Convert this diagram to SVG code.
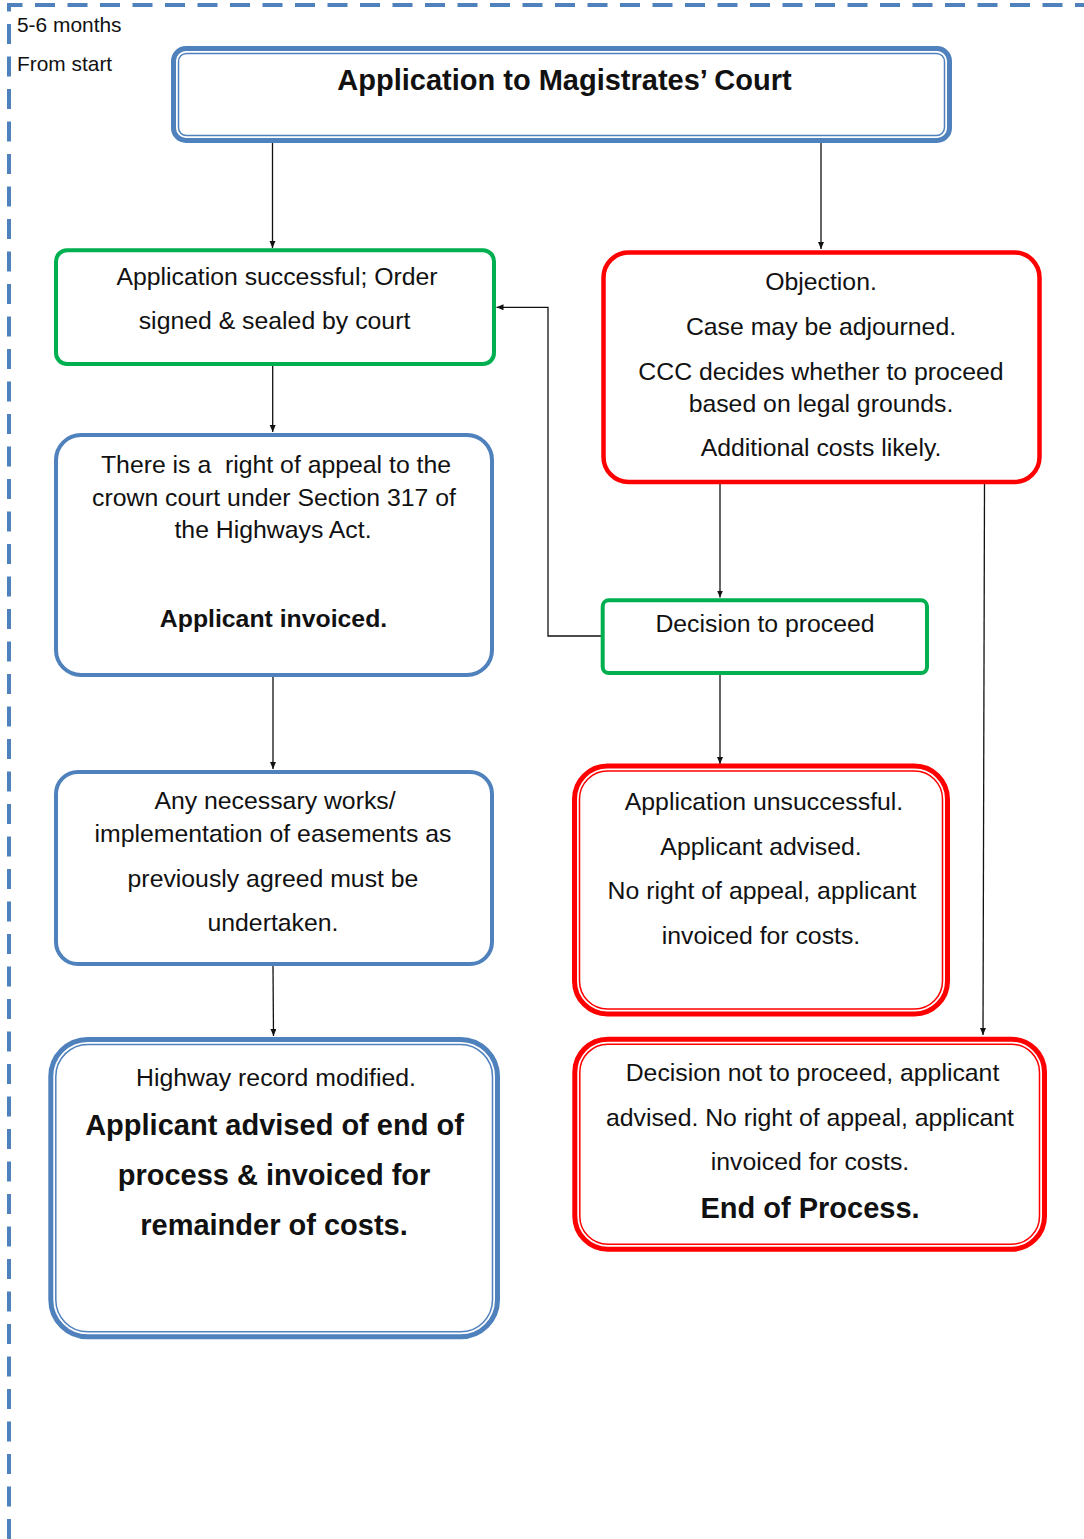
<svg xmlns="http://www.w3.org/2000/svg" width="1084" height="1539" viewBox="0 0 1084 1539">
<style>
text{font-family:"Liberation Sans",Arial,sans-serif;fill:#111;text-anchor:middle}
.s{font-size:20.9px;text-anchor:start}
.t{font-size:24.8px}
.b{font-size:24.8px;font-weight:bold}
.bb{font-size:29px;font-weight:bold}
.tt{font-size:29px;font-weight:bold}
.pre{white-space:pre}
.blue{fill:none;stroke:#4f81bd;stroke-width:4}
.green{fill:none;stroke:#00b050;stroke-width:4}
.red{fill:none;stroke:#ff0000;stroke-width:4.5}
.blueo{fill:none;stroke:#4f81bd;stroke-width:5}
.bluei{fill:none;stroke:#4f81bd;stroke-width:1.5}
.redo{fill:none;stroke:#ff0000;stroke-width:5}
.redi{fill:none;stroke:#ff0000;stroke-width:1.5}
.c{fill:none;stroke:#111;stroke-width:1.3}
.frame{fill:none;stroke:#4f81bd;stroke-width:4;stroke-dasharray:20 12.5}
</style>
<defs>
<marker id="ah" markerUnits="userSpaceOnUse" markerWidth="8" markerHeight="7" refX="7" refY="3" orient="auto">
<path d="M0,0 L7,3 L0,6 z" fill="#111"/>
</marker>
</defs>
<rect width="1084" height="1539" fill="#fff"/>
<path class="frame" d="M9,1539 V5 H1084"/>
<g id="label">
<text class="s" x="17" y="32">5-6 months</text>
<text class="s" x="17" y="71">From start</text>
</g>
<g id="connectors">
<path class="c" marker-end="url(#ah)" d="M272.5,143 V248"/>
<path class="c" marker-end="url(#ah)" d="M821,143 V249"/>
<path class="c" marker-end="url(#ah)" d="M272.7,366 V432"/>
<path class="c" marker-end="url(#ah)" d="M601,636 H548 V307.3 H496.5"/>
<path class="c" marker-end="url(#ah)" d="M720,484 V597.5"/>
<path class="c" marker-end="url(#ah)" d="M984.5,484 L983,1035"/>
<path class="c" marker-end="url(#ah)" d="M720,675 V764"/>
<path class="c" marker-end="url(#ah)" d="M273,677 V769"/>
<path class="c" marker-end="url(#ah)" d="M273,966 L273.5,1036"/>
</g>
<g id="n_court">
<rect class="blueo" x="173.5" y="48.5" width="776" height="92" rx="12.5"/>
<rect class="bluei" x="178.5" y="53.5" width="766" height="82" rx="8"/>
<text class="tt" x="564.5" y="90">Application to Magistrates’ Court</text>
</g>
<g id="n_success">
<rect class="green" x="56" y="250.3" width="438" height="113.7" rx="11"/>
<text class="t" x="277" y="285">Application successful; Order</text>
<text class="t" x="274.5" y="329">signed &amp; sealed by court</text>
</g>
<g id="n_objection">
<rect class="red" x="603.5" y="252.5" width="436" height="229.5" rx="25"/>
<text class="t" x="821" y="290">Objection.</text>
<text class="t" x="821" y="335">Case may be adjourned.</text>
<text class="t" x="821" y="380">CCC decides whether to proceed</text>
<text class="t" x="821" y="412">based on legal grounds.</text>
<text class="t" x="821" y="456">Additional costs likely.</text>
</g>
<g id="n_appeal">
<rect class="blue" x="56" y="435" width="436" height="240" rx="25"/>
<text class="t pre" xml:space="preserve" x="276" y="473">There is a  right of appeal to the</text>
<text class="t" x="274" y="506">crown court under Section 317 of</text>
<text class="t" x="273" y="538">the Highways Act.</text>
<text class="b" x="273.5" y="627">Applicant invoiced.</text>
</g>
<g id="n_proceed">
<rect class="green" x="602.7" y="600.3" width="324.3" height="72.7" rx="6"/>
<text class="t" x="765" y="632">Decision to proceed</text>
</g>
<g id="n_works">
<rect class="blue" x="56" y="772" width="436" height="192" rx="22"/>
<text class="t" x="275" y="809">Any necessary works/</text>
<text class="t" x="273" y="842">implementation of easements as</text>
<text class="t" x="273" y="887">previously agreed must be</text>
<text class="t" x="273" y="931">undertaken.</text>
</g>
<g id="n_unsuccessful">
<rect class="redo" x="574.5" y="766" width="373" height="248" rx="33"/>
<rect class="redi" x="579.5" y="771" width="363" height="238" rx="28"/>
<text class="t" x="764" y="810">Application unsuccessful.</text>
<text class="t" x="761" y="855">Applicant advised.</text>
<text class="t" x="762" y="899">No right of appeal, applicant</text>
<text class="t" x="761" y="944">invoiced for costs.</text>
</g>
<g id="n_notproceed">
<rect class="redo" x="574.8" y="1039.2" width="469.7" height="210" rx="33"/>
<rect class="redi" x="579.8" y="1044.2" width="459.7" height="200" rx="28"/>
<text class="t" x="812.5" y="1081">Decision not to proceed, applicant</text>
<text class="t" x="810" y="1126">advised. No right of appeal, applicant</text>
<text class="t" x="810" y="1170">invoiced for costs.</text>
<text class="bb" x="810" y="1218">End of Process.</text>
</g>
<g id="n_modified">
<rect class="blueo" x="50.8" y="1039.5" width="446.7" height="297.3" rx="37"/>
<rect class="bluei" x="55.8" y="1044.5" width="436.7" height="287.3" rx="32"/>
<text class="t" x="276" y="1086">Highway record modified.</text>
<text class="bb" x="274.5" y="1135">Applicant advised of end of</text>
<text class="bb" x="274" y="1185">process &amp; invoiced for</text>
<text class="bb" x="274" y="1235">remainder of costs.</text>
</g>
</svg>
